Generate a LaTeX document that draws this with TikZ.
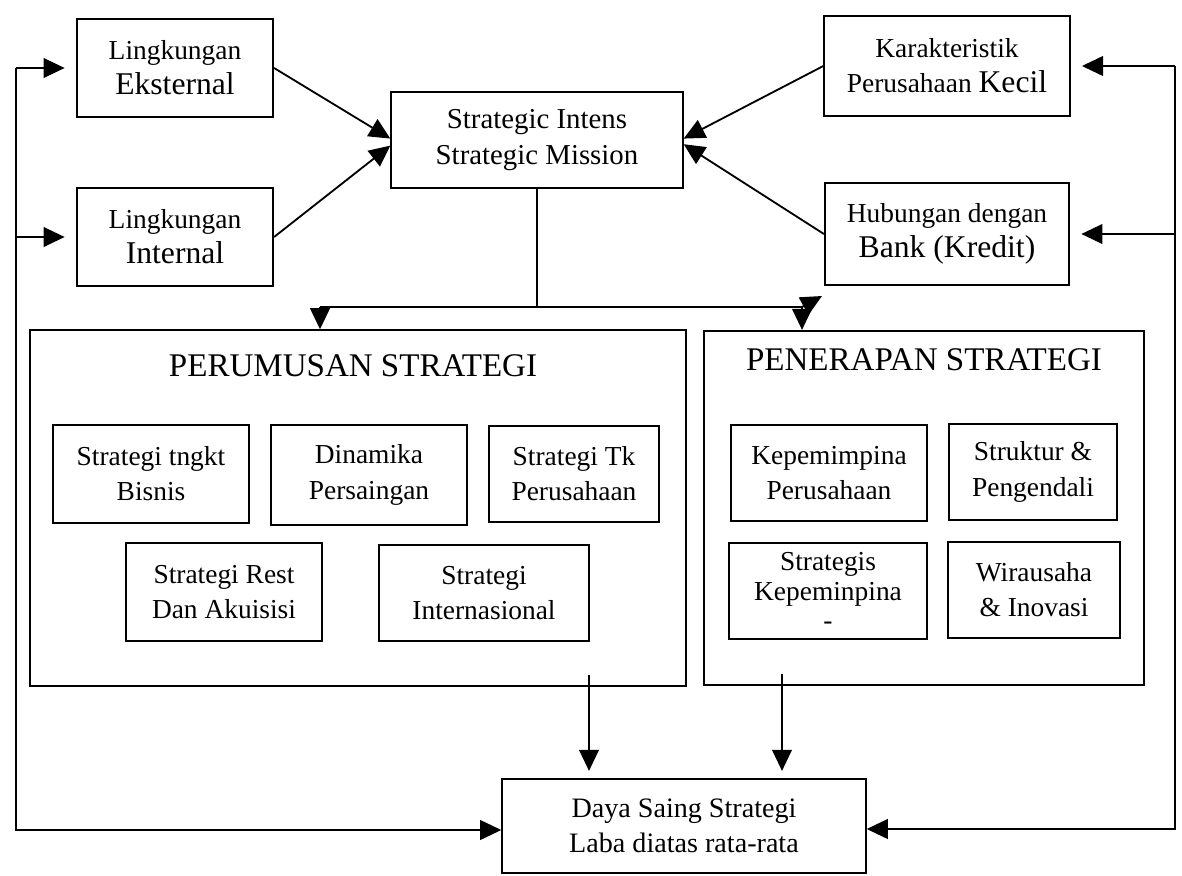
\documentclass[tikz,border=0pt]{standalone}
\usepackage{fontspec}
\setmainfont{Liberation Serif}
\usetikzlibrary{arrows.meta}
\tikzset{
  kotak/.style={draw, line width=1.5pt, align=center, inner sep=0pt, font=\fontsize{19.5}{25}\selectfont},
  bingkai/.style={draw, line width=1.5pt, inner sep=0pt},
  judul/.style={font=\fontsize{23.5}{28}\selectfont},
  garis/.style={line width=1.3pt},
  panah/.style={line width=1.3pt, -{Triangle[length=15pt,width=14pt]}},
}
\newcommand{\besar}{\fontsize{22.5}{25}\selectfont}

\begin{document}
\begin{tikzpicture}[x=0.025cm, y=-0.025cm]
\useasboundingbox (0,0) rectangle (1182,875);

% baris atas
\node[kotak, minimum width=4.9cm, minimum height=2.43cm] (eksternal) at (175,68) {Lingkungan\\{\besar Eksternal}};
\node[kotak, minimum width=4.9cm, minimum height=2.45cm] (internal) at (175,237) {Lingkungan\\{\besar Internal}};
\node[kotak, minimum width=7.28cm, minimum height=2.38cm, font=\fontsize{20.5}{25}\selectfont] (strategic) at (537,140) {Strategic Intens\\Strategic Mission};
\node[kotak, minimum width=6.13cm, minimum height=2.5cm] (karakteristik) at (947,66) {Karakteristik\\Perusahaan {\besar Kecil}};
\node[kotak, minimum width=6.1cm, minimum height=2.55cm] (hubungan) at (947,234) {Hubungan dengan\\{\besar Bank (Kredit)}};

% perumusan strategi
\node[bingkai, minimum width=16.4cm, minimum height=8.88cm] (perumusan) at (358,508) {};
\node[judul] (judulkiri) at (353,366) {PERUMUSAN STRATEGI};
\node[kotak, minimum width=4.9cm, minimum height=2.45cm] (bisnis) at (151,474) {Strategi tngkt\\Bisnis};
\node[kotak, minimum width=4.88cm, minimum height=2.48cm] (dinamika) at (369,475) {Dinamika\\Persaingan};
\node[kotak, minimum width=4.25cm, minimum height=2.4cm] (tkperusahaan) at (574,474) {Strategi Tk\\Perusahaan};
\node[kotak, minimum width=4.88cm, minimum height=2.45cm] (akuisisi) at (224,592) {Strategi Rest\\Dan Akuisisi};
\node[kotak, minimum width=5.23cm, minimum height=2.38cm] (internasional) at (484,593) {Strategi\\Internasional};

% penerapan strategi
\node[bingkai, minimum width=11cm, minimum height=8.85cm] (penerapan) at (924,508) {};
\node[judul] (judulkanan) at (924,360) {PENERAPAN STRATEGI};
\node[kotak, minimum width=4.88cm, minimum height=2.4cm] (kepemimpinan) at (829,473) {Kepemimpina\\Perusahaan};
\node[kotak, minimum width=4.2cm, minimum height=2.38cm] (struktur) at (1033,472) {Struktur \&\\Pengendali};
\node[kotak, minimum width=4.93cm, minimum height=2.38cm, font=\fontsize{19.5}{21}\selectfont] (strategis) at (828,591) {Strategis\\Kepeminpina\\-};
\node[kotak, minimum width=4.28cm, minimum height=2.38cm] (wirausaha) at (1034,590) {Wirausaha\\\& Inovasi};

% hasil
\node[kotak, minimum width=9.08cm, minimum height=2.35cm, font=\fontsize{20}{25}\selectfont] (daya) at (684,826) {Daya Saing Strategi\\Laba diatas rata-rata};

% panah ke strategic intens
\draw[panah] (eksternal.east) -- ([yshift=1pt]strategic.west);
\draw[panah] (internal.east) -- ([yshift=-4pt]strategic.west);
\draw[panah] (karakteristik.west) -- ([yshift=1pt]strategic.east);
\draw[panah] (hubungan.west) -- ([yshift=-3pt]strategic.east);

% cabang ke perumusan dan penerapan
\coordinate (cabangkiri) at (320,307);
\coordinate (cabangkanan) at (802,307);
\draw[garis] (strategic.south) -- (strategic.south |- cabangkiri);
\draw[garis] (cabangkiri) -- (cabangkanan);
\draw[panah] (cabangkiri) -- (cabangkiri |- perumusan.north);
\draw[panah] (cabangkanan) -- (cabangkanan |- penerapan.north);
\draw[panah] (cabangkanan) -- ++(20,-11);

% ke daya saing
\coordinate (hasilkiri) at (589,675);
\coordinate (hasilkanan) at (782,674);
\draw[panah, shorten >=5pt] (hasilkiri) -- (hasilkiri |- daya.north);
\draw[panah, shorten >=5pt] (hasilkanan) -- (hasilkanan |- daya.north);

% umpan balik kiri
\coordinate (balikkiri) at (16,830);
\draw[panah] (balikkiri |- eksternal.west) |- (daya.west |- balikkiri);
\draw[panah, shorten >=8pt] (balikkiri |- eksternal.west) -- (eksternal.west);
\draw[panah, shorten >=8pt] (balikkiri |- internal.west) -- (internal.west);

% umpan balik kanan
\coordinate (balikkanan) at (1175,829);
\draw[panah] (balikkanan |- karakteristik.east) |- (daya.east |- balikkanan);
\draw[panah, shorten >=8pt] (balikkanan |- karakteristik.east) -- (karakteristik.east);
\draw[panah, shorten >=8pt] (balikkanan |- hubungan.east) -- (hubungan.east);
\end{tikzpicture}
\end{document}
